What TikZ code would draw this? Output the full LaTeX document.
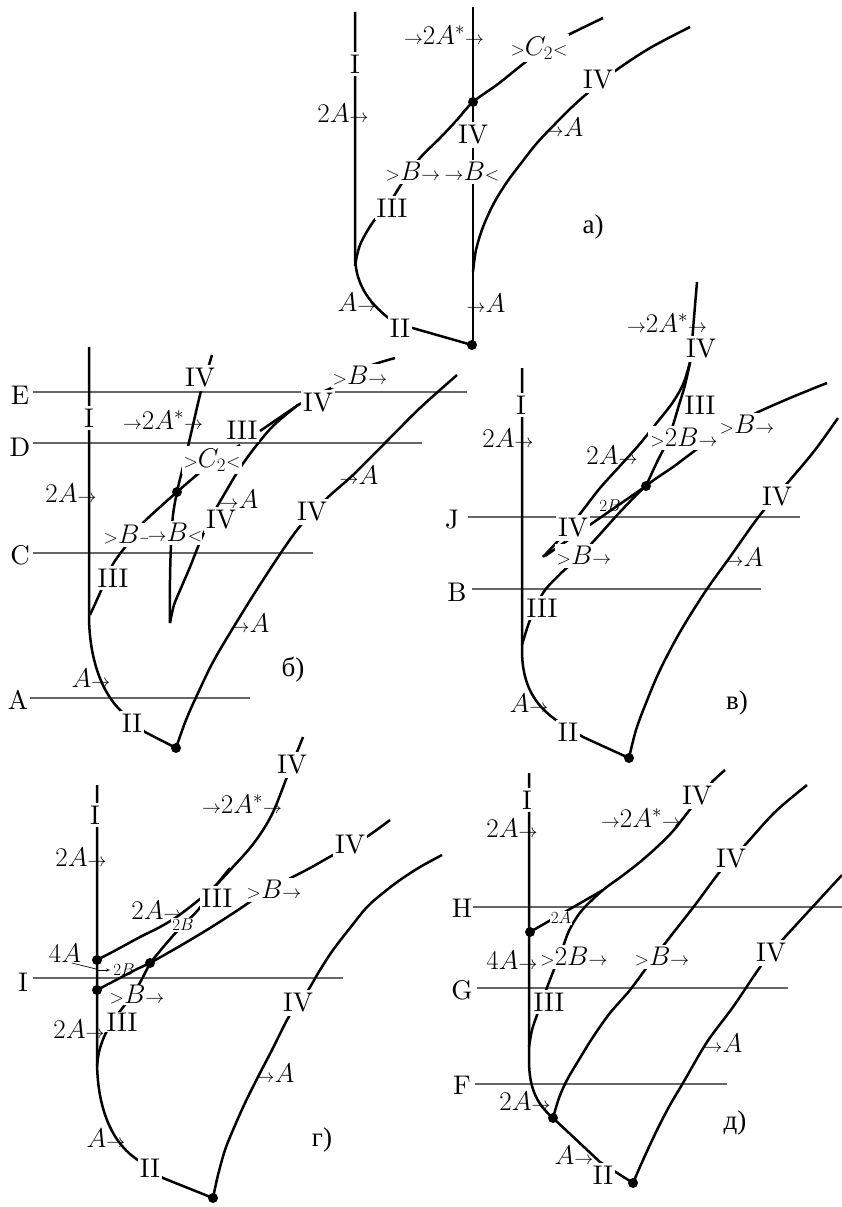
\RequirePackage{fix-cm}
\documentclass[tikz,border=0pt]{standalone}
\usepackage{fontspec}
\setmainfont{lmroman10-regular.otf}
\usetikzlibrary{arrows.meta}
\newfontfamily\cyr{Liberation Serif}
\newcommand{\Sar}{{\scriptstyle\rightarrow}}
\newcommand{\Sgt}{{\scriptstyle>}}
\newcommand{\Slt}{{\scriptstyle<}}
\tikzset{
 crv/.style={line width=2.5pt, line join=round},
 hln/.style={line width=1.1pt, black!60},
 lab/.style={font=\fontsize{27}{30}\selectfont, inner sep=1pt},
 wlab/.style={lab, fill=white, inner xsep=2pt, inner ysep=3pt},
 slab/.style={font=\fontsize{17}{19}\selectfont, inner sep=1pt},
 swlab/.style={slab, fill=white},
 dot/.style={circle, fill=black, inner sep=0pt, minimum size=10pt},
 sm/.style={smooth, tension=0.55},
}
\begin{document}
\begin{tikzpicture}[x=1pt,y=-1pt]
\useasboundingbox (0,0) rectangle (842,1207);

% ================= panel a =================
\draw[crv] (355,12) -- (355,255) .. controls (355,285) and (370,305) .. (395,323) -- (472,345);
\draw[crv] plot[sm] coordinates {(355,266)(360,245)(373,222)(388,205)(404,180)(420,158)(440,138)(456,121)(473,102)(498,84)(523,64)(547,46)(572,33)(603,18)};
\draw[crv] (473,7) -- (473,345);
\draw[crv] plot[sm] coordinates {(473,272)(476,250)(483,227)(494,203)(507,182)(522,162)(537,143)(555,124)(572,107)(590,91)(615,71)(650,48)(690,27)};
\node[wlab] (aI) at (355,64) {I};
\node[lab] (a2A) at (343,113) {$2A\Sar$};
\node[lab] (aA1) at (357,302) {$A\Sar$};
\node[wlab] (aII) at (400,328) {II};
\node[wlab] (aIII) at (392,208) {III};
\node[wlab] (aB1) at (413,172) {$\Sgt B\Sar$};
\node[wlab] (aB2) at (472,172) {$\Sar B\Slt$};
\node[lab] (aAs) at (444,35) {$\Sar 2A^*\Sar$};
\node[wlab] (aIV1) at (473,135) {IV};
\node[wlab] (aC) at (539,48) {$\Sgt C_2\Slt$};
\node[lab] (aA2) at (486,303) {$\Sar A$};
\node[lab] (aA3) at (564,127) {$\Sar A$};
\node[wlab] (aIV2) at (598,80) {IV};
\node[lab] (atag) at (593,227) {\cyr а)};
\node[dot] (ad1) at (473,102) {};
\node[dot] (ad2) at (472,345) {};

% ================= panel b =================
\draw[hln] (33,392) -- (467,392);
\draw[hln] (33,443) -- (422,443);
\draw[hln] (33,553) -- (313,553);
\draw[hln] (30,698) -- (250,698);
\node[lab] (bE) at (20,395) {E};
\node[lab] (bD) at (20,447) {D};
\node[lab] (bC) at (20,555) {C};
\node[lab] (bA) at (18,700) {A};
\draw[crv] (89,347) -- (89,615) .. controls (89,655) and (100,690) .. (120,710) -- (145,732) -- (176,748);
\draw[crv] plot[sm] coordinates {(90,615)(100,593)(113,564)(133,537)(143,523)(160,507)(177,492)(198,474)(215,462)(228,453)(240,445)};
\draw[crv] plot[sm] coordinates {(212,355)(206,375)(200,395)(193,425)(186,455)(181,475)(177,492)(173,515)(171,545)(170,580)(170,623)};
\draw[crv] plot[sm] coordinates {(170,623)(174,605)(181,588)(190,567)(202,537)(213,514)(225,493)(240,468)(256,446)(274,425)(298,405)};
\draw[crv] (260,431) -- (298,405);
\draw[crv] plot[sm] coordinates {(298,405)(323,392)(347,380)(367,367)(395,358)};
\draw[crv] plot[sm] coordinates {(176,748)(186,720)(198,693)(213,662)(233,628)(263,580)(297,530)(325,500)(353,475)(385,443)(420,408)(457,375)};
\node[wlab] (bI) at (89,418) {I};
\node[lab] (b2A) at (71,493) {$2A\Sar$};
\node[lab] (bA1) at (91,678) {$A\Sar$};
\node[wlab] (bII) at (132,723) {II};
\node[wlab] (bIII1) at (113,578) {III};
\node[wlab] (bB1) at (131,535) {$\Sgt B\Sar$};
\node[wlab, inner xsep=0pt] (bB2) at (175,533) {$\Sar B\Slt$};
\node[wlab] (bC2) at (212,460) {$\Sgt C_2\Slt$};
\node[lab] (bAs) at (163,420) {$\Sar 2A^*\Sar$};
\node[wlab] (bIV1) at (200,378) {IV};
\node[wlab] (bIV2) at (221,520) {IV};
\node[lab] (bA2) at (239,499) {$\Sar A$};
\node[wlab] (bIII2) at (242,430) {III};
\node[wlab] (bIV3) at (318,403) {IV};
\node[wlab] (bB3) at (360,376) {$\Sgt B\Sar$};
\node[lab] (bA3) at (250,623) {$\Sar A$};
\node[wlab] (bIV4) at (312,512) {IV};
\node[lab] (bA4) at (359,475) {$\Sar A$};
\node[lab] (btag) at (293,670) {\cyr б)};
\node[dot] (bd1) at (177,492) {};
\node[dot] (bd2) at (176,748) {};

% ================= panel v =================
\draw[hln] (468,517) -- (800,517);
\draw[hln] (472,589) -- (761,589);
\node[lab] (vJ) at (452,520) {J};
\node[lab] (vB) at (457,592) {B};
\draw[crv] (522,368) -- (522,650) .. controls (522,685) and (535,705) .. (556,720) -- (583,737) -- (629,758);
\draw[crv] plot[sm] coordinates {(522,645)(530,620)(543,593)(557,577)(572,563)(592,543)(620,512)(646,486)(673,467)(700,447)(727,430)(752,415)(790,398)(827,383)};
\draw[crv] (646,486) -- (545,556);
\draw[crv] plot[sm] coordinates {(691,358)(684,382)(673,402)(655,425)(638,446)(619,467)(600,488)(583,510)(565,533)(543,557)};
\draw[crv] plot[sm] coordinates {(646,486)(657,462)(667,442)(673,425)(679,405)(685,385)(691,358)};
\draw[crv] plot[sm] coordinates {(691,358)(693,330)(697,282)};
\draw[crv] plot[sm] coordinates {(629,758)(636,730)(646,703)(660,670)(680,632)(705,592)(730,557)(760,515)(790,480)(815,450)(838,418)};
\node[wlab] (vI) at (521,405) {I};
\node[lab] (v2A) at (508,438) {$2A\Sar$};
\node[lab] (vA1) at (529,703) {$A\Sar$};
\node[wlab] (vII) at (568,732) {II};
\node[wlab] (vIII1) at (542,608) {III};
\node[wlab] (vB1) at (584,556) {$\Sgt B\Sar$};
\node[wlab] (vB2) at (747,425) {$\Sgt B\Sar$};
\node[slab] (v2B1) at (610,506) {$2B$};
\node[wlab] (vIV1) at (573,528) {IV};
\node[lab] (v2A2) at (612,455) {$2A\Sar$};
\node[wlab] (v2B2) at (684,438) {$\Sgt 2B\Sar$};
\node[lab] (vIII2) at (700,405) {III};
\node[wlab] (vIV2) at (701,349) {IV};
\node[lab] (vAs) at (667,323) {$\Sar 2A^*\Sar$};
\node[lab] (vA2) at (744,557) {$\Sar A$};
\node[wlab] (vIV3) at (777,497) {IV};
\node[lab] (vtag) at (737,703) {\cyr в)};
\node[dot] (vd1) at (646,486) {};
\node[dot] (vd2) at (629,758) {};

% ================= panel g =================
\draw[hln] (33,978) -- (343,978);
\node[lab] (gIl) at (23,982) {I};
\draw[crv] (97,785) -- (97,1060) .. controls (97,1105) and (110,1140) .. (135,1158) -- (163,1178) -- (213,1198);
\draw[crv] plot[sm] coordinates {(97,960)(118,949)(140,937)(160,927)(178,916)(200,899)(216,885)(232,868)(250,848)(263,830)(274,810)(287,777)(297,752)(303,737)};
\draw[crv] plot[sm] coordinates {(150,963)(180,946)(210,928)(238,910)(263,893)(285,881)(310,868)(333,855)(350,846)(368,836)(390,820)};
\draw[crv] plot[sm] coordinates {(150,963)(165,945)(180,928)(198,910)(214,888)(230,868)};
\draw[crv] (97,990) -- (137,969) -- (150,963);
\draw[crv] plot[sm] coordinates {(150,963)(137,988)(124,1006)(112,1022)(104,1037)(99,1052)(97,1066)};
\draw[crv] plot[sm] coordinates {(213,1198)(218,1175)(225,1150)(233,1130)(245,1103)(260,1073)(272,1050)(287,1020)(298,1002)(307,992)(320,970)(333,950)(350,928)(367,907)(383,893)(400,880)(420,867)(442,855)};
\node[wlab] (gI) at (95,815) {I};
\node[lab] (g2A1) at (81,857) {$2A\Sar$};
\node[lab] (g4A) at (65,953) {$4A$};
\draw[line width=0.7pt] (72,963) -- (96,969);
\draw[line width=0.7pt,-{Stealth[length=4pt,width=3pt]}] (96,970) -- (110,970);
\node[slab] (g2B1) at (124,970) {$2B$};
\node[lab] (g2A2) at (157,910) {$2A\Sar$};
\node[swlab] (g2B2) at (183,925) {$2B$};
\node[wlab] (gIII1) at (217,898) {III};
\node[lab] (gAs) at (242,804) {$\Sar 2A^*\Sar$};
\node[wlab] (gIV1) at (292,765) {IV};
\node[wlab] (gB1) at (274,890) {$\Sgt B\Sar$};
\node[wlab] (gIV2) at (350,845) {IV};
\node[wlab, inner ysep=1pt] (gB2) at (137,995) {$\Sgt B\Sar$};
\node[wlab, inner ysep=1pt] (gIII2) at (122,1022) {III};
\node[lab] (g2A3) at (79,1029) {$2A\Sar$};
\node[lab] (gA1) at (106,1138) {$A\Sar$};
\node[wlab] (gII) at (150,1168) {II};
\node[wlab] (gIV3) at (298,1003) {IV};
\node[lab] (gA2) at (275,1073) {$\Sar A$};
\node[lab] (gtag) at (322,1140) {\cyr г)};
\node[dot] (gd1) at (97,960) {};
\node[dot] (gd2) at (97,990) {};
\node[dot] (gd3) at (150,963) {};
\node[dot] (gd4) at (213,1198) {};

% ================= panel d =================
\draw[hln] (473,907) -- (842,907);
\draw[hln] (477,988) -- (788,988);
\draw[hln] (475,1084) -- (727,1084);
\node[lab] (dH) at (462,908) {H};
\node[lab] (dG) at (462,990) {G};
\node[lab] (dF) at (462,1085) {F};
\draw[crv] (529,773) -- (529,1060) .. controls (529,1090) and (538,1105) .. (553,1118) -- (600,1162) -- (633,1183);
\draw[crv] (530,932) -- (603,890);
\draw[crv] plot[sm] coordinates {(529,1047)(532,1030)(537,1015)(543,998)(548,985)(553,972)(558,960)(563,947)(568,933)(575,920)(584,908)(603,890)(622,876)(640,862)(657,847)(673,831)(688,812)(700,797)(712,782)(725,770)};
\draw[crv] plot[sm] coordinates {(553,1118)(559,1098)(567,1080)(580,1058)(593,1037)(610,1013)(630,990)(650,963)(670,937)(695,905)(718,874)(731,859)(745,845)(775,812)(807,785)};
\draw[crv] plot[sm] coordinates {(633,1183)(643,1160)(657,1130)(670,1105)(683,1083)(707,1042)(733,1007)(758,970)(771,953)(785,937)(807,913)(842,875)};
\node[wlab] (dI) at (527,800) {I};
\node[lab] (d2A1) at (512,828) {$2A\Sar$};
\node[swlab] (d2A2) at (561,918) {$2A$};
\node[lab] (d4A) at (512,960) {$4A\Sar$};
\node[wlab] (d2B) at (574,957) {$\Sgt 2B\Sar$};
\node[wlab] (dIII) at (549,1002) {III};
\node[lab] (dAs) at (641,818) {$\Sar 2A^*\Sar$};
\node[wlab] (dIV1) at (697,796) {IV};
\node[wlab] (dB) at (662,957) {$\Sgt B\Sar$};
\node[wlab] (dIV2) at (731,859) {IV};
\node[wlab] (dIV3) at (771,953) {IV};
\node[lab] (dA1) at (723,1043) {$\Sar A$};
\node[lab] (d2A3) at (525,1101) {$2A\Sar$};
\node[lab] (dA2) at (574,1155) {$A\Sar$};
\node[wlab] (dII) at (603,1175) {II};
\node[lab] (dtag) at (735,1123) {\cyr д)};
\node[dot] (dd1) at (530,932) {};
\node[dot] (dd2) at (553,1118) {};
\node[dot] (dd3) at (633,1183) {};
\end{tikzpicture}
\end{document}
